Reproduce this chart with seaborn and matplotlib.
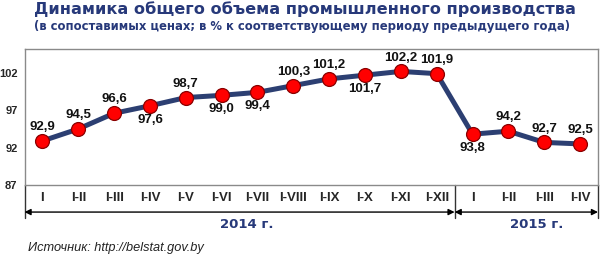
import matplotlib
matplotlib.use("Agg")
import matplotlib.pyplot as plt
import seaborn as sns
import pandas as pd

periods = ["I", "I-II", "I-III", "I-IV", "I-V", "I-VI", "I-VII", "I-VIII",
           "I-IX", "I-X", "I-XI", "I-XII", "I", "I-II", "I-III", "I-IV"]
values = [92.9, 94.5, 96.6, 97.6, 98.7, 99.0, 99.4, 100.3,
          101.2, 101.7, 102.2, 101.9, 93.8, 94.2, 92.7, 92.5]
label_pos = ["above", "above", "above", "below", "above", "below", "below", "above",
             "above", "below", "above", "above", "below", "above", "above", "above"]
yticks = [87, 92, 97, 102]
year_labels = ["2014 г.", "2015 г."]
year_counts = [12, 4]

title = "Динамика общего объема промышленного производства"
subtitle = "(в сопоставимых ценах; в % к соответствующему периоду предыдущего года)"
source = "Источник: http://belstat.gov.by"

sns.set_style("white")
plt.rcParams["font.family"] = ["Liberation Sans", "DejaVu Sans"]

NAVY = "#27397a"
LINE = "#2c3f72"

df = pd.DataFrame({"idx": range(len(values)), "value": values})

fig = plt.figure(figsize=(6.0, 2.56), dpi=100)
L, R, T, B = 24.5, 598, 49, 185
ax = fig.add_axes([L / 600, 1 - B / 256, (R - L) / 600, (B - T) / 256])

sns.lineplot(data=df, x="idx", y="value", ax=ax, color=LINE, linewidth=3.6,
             marker="o", markersize=10, markerfacecolor="#ff0000",
             markeredgecolor="#8a0000", markeredgewidth=0.9, zorder=3)

for i, (v, pos) in enumerate(zip(values, label_pos)):
    dy = 10 if pos == "above" else -10
    ax.annotate(f"{v:.1f}".replace(".", ","), (i, v), xytext=(0, dy),
                textcoords="offset points", ha="center", va="center",
                fontsize=9.5, fontweight="bold", color="#111111", zorder=4)

ax.set_xlim(-0.5, len(values) - 0.5)
ax.set_ylim(87, 105.2)
ax.set_yticks(yticks)
ax.set_yticklabels([str(t) for t in yticks], fontsize=8, fontweight="bold")
ax.set_xticks(range(len(periods)))
ax.set_xticklabels(periods, fontsize=9.5, fontweight="bold")
ax.set_xlabel("")
ax.set_ylabel("")

bounds = []
acc = 0
for c in year_counts:
    bounds.append(acc - 0.5)
    acc += c
bounds.append(acc - 0.5)
minor = [i + 0.5 for i in range(len(values) - 1) if (i + 0.5) not in bounds]
ax.set_xticks(minor, minor=True)
ax.tick_params(axis="x", which="major", length=0, pad=5)
ax.tick_params(axis="x", which="minor", length=4, color="#888888", width=1, direction="out")
ax.tick_params(axis="y", which="major", length=4, color="#888888", width=1, direction="out", pad=1)

for s in ax.spines.values():
    s.set_color("#8a8a8a")
    s.set_linewidth(1)

tr = ax.get_xaxis_transform()
for b in bounds:
    ax.plot([b, b], [0, -0.245], transform=tr, color="#333333", lw=1, clip_on=False)

arrow_y = -0.199
acc = 0
year_x = [5.7, 13.8]
for c, lab, yx in zip(year_counts, year_labels, year_x):
    x0, x1 = acc - 0.5, acc + c - 0.5
    ax.annotate("", xy=(x0, arrow_y), xytext=(x1, arrow_y), xycoords=tr, textcoords=tr,
                arrowprops=dict(arrowstyle="<|-|>", color="black", lw=1,
                                shrinkA=0, shrinkB=0, mutation_scale=9),
                annotation_clip=False)
    ax.text(yx, -0.294, lab, transform=tr, ha="center", va="center",
            fontsize=9.5, fontweight="bold", color=NAVY, family="DejaVu Sans")
    acc += c

fig.text(305 / 600, 1 - 9 / 256, title, ha="center", va="center",
         fontsize=11.6, fontweight="bold", color=NAVY, family="DejaVu Sans")
fig.text(302 / 600, 1 - 26.5 / 256, subtitle, ha="center", va="center",
         fontsize=8.4, fontweight="bold", color=NAVY, family="DejaVu Sans")
fig.text(28 / 600, 1 - 248 / 256, source, ha="left", va="center",
         fontsize=9.2, style="italic", color="#222222")

fig.savefig("out.png", dpi=100)
